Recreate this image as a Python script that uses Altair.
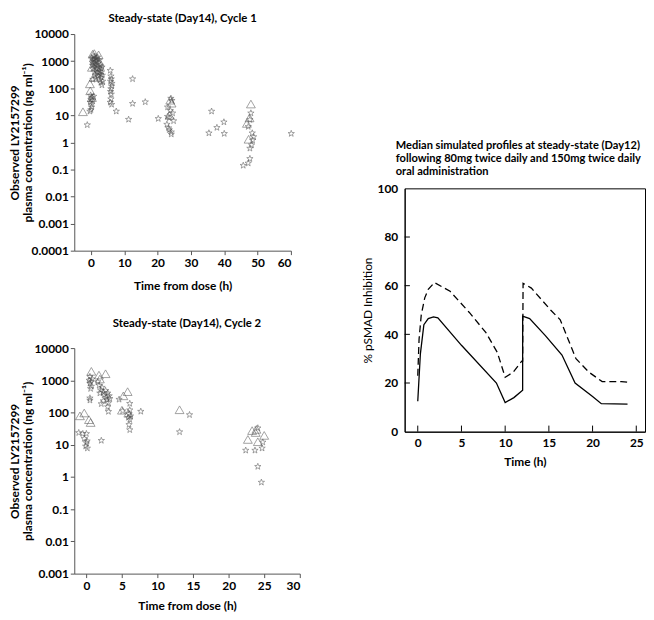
import altair as alt
import pandas as pd

FONT = "Lato"
STAR = ("M0,-1L0.235,-0.324L0.951,-0.309L0.38,0.124L0.588,0.809L0,0.4"
        "L-0.588,0.809L-0.38,0.124L-0.951,-0.309L-0.235,-0.324Z")

# ---------------- Cycle 1 (Day 14) ----------------
c1_tri_t = [-2.4, -0.3, -0.2, 0.3, 0.3, 0.5, 0.8, 1.0, 1.3, 2.3, 2.6, 23.8, 24.2, 23.6, 48.0, 46.8, 47.3, 47.6]
c1_tri_c = [13.5, 145, 80, 45, 590, 1800, 250, 1900, 1400, 1700, 900, 36, 28, 10, 26, 5, 1.3, 8]

c1_star_t = [-1.1, -0.3, 0.0, 0.2, -0.2, 0.0, 0.3, -0.1, 0.5, 0.2, 0.8, 0.6,
             0.3, 0.4, 0.5, 0.6, 0.6, 0.8, 0.9, 1.0, 1.0, 1.1, 1.2, 1.3, 1.5, 1.5, 1.6, 1.8,
             1.9, 2.0, 2.0, 2.2, 2.2, 2.4, 2.5, 2.6, 2.7, 2.8, 2.9, 3.0, 3.0, 3.1, 3.2, 3.3,
             3.4, 3.5, 1.4, 2.3, 3.3,
             5.8, 6.0, 6.1, 5.9, 6.2, 6.0, 5.9, 6.1, 6.0, 5.8, 6.2, 6.3,
             7.6, 11.3, 12.5, 12.5, 16.3, 20.2, 22.8, 23.0, 23.3, 23.5, 24.1, 24.1, 24.8,
             23.8, 24.0, 24.3, 23.0, 23.5, 24.5,
             35.4, 36.2, 37.8, 39.9, 40.0, 45.7, 47.2, 47.7, 47.7, 48.2, 48.8, 48.4, 48.0,
             47.7, 47.2, 48.5, 60.1]
c1_star_c = [4.4, 14, 16, 20, 30, 38, 45, 55, 35, 25, 50, 210,
             1300, 900, 700, 1100, 520, 800, 1500, 1200, 600, 420, 950, 300, 750, 1300, 500, 1000,
             380, 650, 1400, 280, 850, 550, 1100, 420, 200, 700, 320, 520, 160, 250, 400, 130,
             300, 180, 230, 350, 600,
             450, 280, 220, 180, 120, 95, 75, 60, 40, 30, 25, 150,
             14, 7, 220, 27, 31, 7.5, 4.6, 9, 3.4, 2.9, 2.4, 2.0, 6.2,
             15, 42, 35, 20, 8, 12,
             2.2, 14, 3.5, 5.6, 2.1, 0.14, 0.17, 0.25, 0.6, 0.8, 1.6, 2.2, 12,
             6.9, 3.8, 1.2, 2.1]

# ---------------- Cycle 2 (Day 14) ----------------
c2_tri_t = [-0.9, -0.3, 0.37, 0.6, 0.7, 1.77, 2.7, 1.9, 5.2, 5.8, 5.0, 5.9, 13.1,
            22.7, 23.3, 23.8, 24.1, 25.0, 23.9]
c2_tri_c = [79, 97, 60, 49, 1900, 1450, 1600, 1100, 330, 445, 118, 95, 122,
            14.6, 27.5, 24, 12.4, 19.5, 30]

c2_star_t = [-1.07, 0.0, -0.3, 0.0, 0.14, -0.1, 0.1, -0.5,
             0.5, 0.4, 0.6, 0.5, 0.7, 0.6, 0.5, 0.5, 0.8,
             2.1, 2.1,
             1.6, 1.8, 2.0, 2.2, 2.4, 2.5, 2.7, 2.8, 2.9, 3.0, 3.1, 3.2, 3.3, 3.1, 3.0, 2.4, 1.9,
             4.6, 5.1, 6.1, 6.1, 6.0, 6.1, 6.0, 6.1, 6.2, 5.9, 7.65,
             14.5, 13.1,
             22.4, 23.7, 24.7, 24.8, 24.1, 24.1, 24.6]
c2_star_c = [23.6, 22, 15.5, 11.5, 7.8, 9, 13, 22,
             1300, 1000, 900, 800, 650, 550, 280, 240, 1100,
             13.5, 186,
             900, 700, 500, 600, 420, 350, 480, 300, 250, 400, 200, 330, 270, 107, 150, 230, 400,
             255, 112, 190, 120, 90, 60, 42, 29, 78, 70, 108,
             85, 25,
             6.7, 6.7, 7.8, 12, 33, 2.1, 0.68]

# ---------------- Simulated pSMAD inhibition ----------------
solid_t = [0, 0.3, 0.7, 1.2, 1.8, 2.3, 5.0, 9.0, 10.0, 11.0, 12.0, 12.0, 12.8, 14.6, 16.5, 18.0, 20.0, 21.0, 24.0]
solid_p = [12.5, 32, 44, 46.5, 47.2, 46.8, 35.5, 20, 12, 14, 17, 47.5, 46.5, 39.5, 31.5, 20, 14.5, 11.5, 11.3]
dashed_t = [0, 0.15, 0.4, 0.8, 1.2, 1.9, 3.7, 5.9, 7.8, 9.1, 10.0, 10.9, 11.9, 12.0, 12.05, 13.0,
            15.2, 16.3, 17.2, 18.1, 19.6, 21.1, 23.3, 24.0]
dashed_p = [23, 38, 48, 55, 58.5, 61.3, 57.7, 49, 40.7, 32.6, 22.4, 24.4, 29, 29, 61, 59,
            50, 46, 38, 30, 24.4, 20.6, 20.6, 20.3]

c1_x_ticks = [0, 10, 20, 30, 40, 50, 60]
c1_y_ticks = [0.0001, 0.001, 0.01, 0.1, 1, 10, 100, 1000, 10000]
c2_x_ticks = [0, 5, 10, 15, 20, 25, 30]
c2_y_ticks = [0.001, 0.01, 0.1, 1, 10, 100, 1000, 10000]
r_x_ticks = [0, 5, 10, 15, 20, 25]
r_y_ticks = [0, 20, 40, 60, 80, 100]

Y_TITLE = ["Observed LY2157299", "plasma concentration (ng ml\u207b\u00b9)"]


def scatter_panel(tf, cf, tri_t, tri_c, star_t, star_c, x_domain, x_ticks, y_domain,
                  y_ticks, w, h, title, title_offset, xtitle_pad):
    tri = pd.DataFrame({tf: tri_t, cf: tri_c})
    star = pd.DataFrame({tf: star_t, cf: star_c})
    xenc = alt.X(f"{tf}:Q", scale=alt.Scale(domain=x_domain, nice=False, zero=False),
                 axis=alt.Axis(values=x_ticks, title="Time from dose (h)",
                               titlePadding=xtitle_pad, labelPadding=3))
    yenc = alt.Y(f"{cf}:Q", scale=alt.Scale(type="log", domain=y_domain, nice=False),
                 axis=alt.Axis(values=y_ticks, format="~g", title=Y_TITLE,
                               titleX=-53, titleY=h / 2, titleBaseline="bottom",
                               titleLineHeight=13, labelPadding=2))
    l_star = alt.Chart(star).mark_point(shape=STAR, filled=False, size=45, color="#444",
                                         strokeWidth=0.7).encode(x=xenc, y=yenc)
    l_tri = alt.Chart(tri).mark_point(shape="triangle-up", filled=False, size=80, color="#444",
                                       strokeWidth=0.7).encode(x=xenc, y=yenc)
    return alt.layer(l_star, l_tri).properties(
        width=w, height=h, title=alt.Title(title, offset=title_offset))


top = scatter_panel("t1", "c1", c1_tri_t, c1_tri_c, c1_star_t, c1_star_c, [-5, 60], c1_x_ticks,
                    [0.0001, 10000], c1_y_ticks, 219, 219, "Steady-state (Day14), Cycle 1", 3.5, 12)
bottom = scatter_panel("t2", "c2", c2_tri_t, c2_tri_c, c2_star_t, c2_star_c, [-1.7, 30], c2_x_ticks,
                       [0.001, 10000], c2_y_ticks, 228, 228, "Steady-state (Day14), Cycle 2", 13, 9)

# right panel
solid = pd.DataFrame({"tr": solid_t, "p": solid_p, "o": list(range(len(solid_t)))})
dashed = pd.DataFrame({"tr": dashed_t, "p": dashed_p, "o": list(range(len(dashed_t)))})
rx = alt.X("tr:Q", scale=alt.Scale(domain=[-1.5, 26], nice=False, zero=False),
           axis=alt.Axis(values=r_x_ticks, title="Time (h)", ticks=False, labelPadding=6,
                         titlePadding=8, domainColor="black"))
ry = alt.Y("p:Q", scale=alt.Scale(domain=[0, 100], nice=False),
           axis=alt.Axis(values=r_y_ticks, title="% pSMAD Inhibition", ticks=False,
                         labelPadding=7, titlePadding=3, domainColor="black",
                         titleFontWeight="normal"))
l_solid = alt.Chart(solid).mark_line(color="black", strokeWidth=1.3).encode(x=rx, y=ry, order="o:Q")
l_dash = alt.Chart(dashed).mark_line(color="black", strokeWidth=1.3, strokeDash=[7, 4]).encode(
    x=rx, y=ry, order="o:Q")
xtick_df = pd.DataFrame({"tr": r_x_ticks})
ytick_df = pd.DataFrame({"p": r_y_ticks[1:-1]})
l_xt = alt.Chart(xtick_df).mark_rule(color="black", strokeWidth=1).encode(
    x="tr:Q", y=alt.datum(0), y2=alt.datum(2.5))
l_yt = alt.Chart(ytick_df).mark_rule(color="black", strokeWidth=1).encode(
    y="p:Q", x=alt.datum(-1.5), x2=alt.datum(-0.9))
right = alt.layer(l_xt, l_yt, l_solid, l_dash).properties(
    width=243, height=246,
    view=alt.ViewBackground(stroke="black", strokeWidth=1),
    title=alt.Title(["Median simulated profiles at steady-state (Day12)",
                     "following 80mg twice daily and 150mg twice daily",
                     "oral administration"],
                    anchor="start", frame="group", dx=-9, offset=5, lineHeight=13.5,
                    fontSize=11.2))

spacer = alt.Chart(pd.DataFrame({"a": [0]})).mark_point(opacity=0).encode(
    x=alt.X("a:Q", axis=None), y=alt.Y("a:Q", axis=None)).properties(width=243, height=106)

left_col = alt.vconcat(top, bottom, spacing=26.5)
right_col = alt.vconcat(spacer, right, spacing=0)

chart = alt.hconcat(left_col, right_col, spacing=60).properties(
    padding={"top": 2, "left": 0, "right": 0, "bottom": 0}
).configure_view(
    stroke=None
).configure_axis(
    labelFont=FONT, labelFontWeight="bold", labelFontSize=12, labelColor="black",
    titleFont=FONT, titleFontWeight="bold", titleFontSize=12, titleColor="black",
    domainColor="#555", tickColor="#555", tickSize=4, grid=False
).configure_title(
    font=FONT, fontSize=11.5, fontWeight="bold", color="black"
)

chart.save("out.html", embed_options={"renderer": "svg", "actions": False})
